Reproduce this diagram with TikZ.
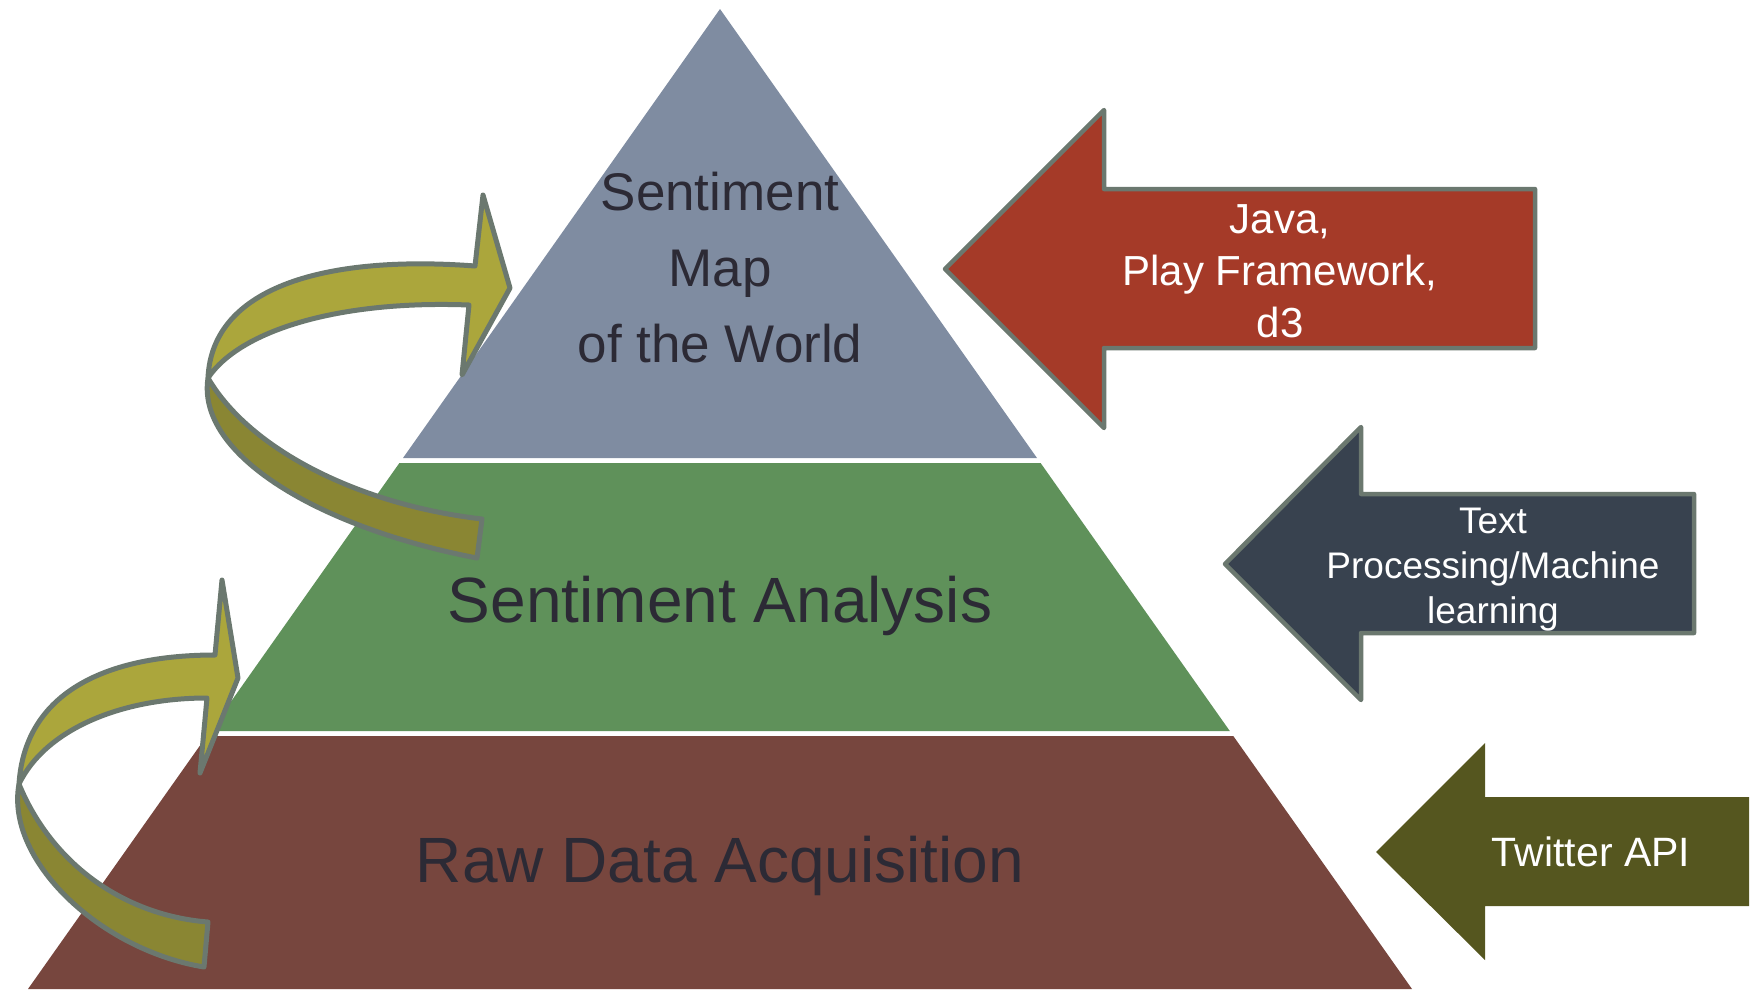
\documentclass[tikz,border=0pt]{standalone}
\usepackage{fontspec}
\setmainfont{Liberation Sans}
\usepackage{xcolor}
\definecolor{topgray}{HTML}{7F8CA1}
\definecolor{midgreen}{HTML}{5F915A}
\definecolor{lowbrown}{HTML}{77463E}
\definecolor{tiertext}{HTML}{2C2A35}
\definecolor{javared}{HTML}{A53A28}
\definecolor{slate}{HTML}{38424F}
\definecolor{darkolive}{HTML}{55561F}
\definecolor{edgegray}{HTML}{6B786F}
\definecolor{ribbonlight}{HTML}{ABA63C}
\definecolor{ribbondark}{HTML}{8A8633}

\begin{document}
\begin{tikzpicture}
    [
    x={(1pt,0)}, y={(0,-1pt)},
    tier/.style={text=tiertext,align=center},
    block/.style={draw=edgegray,line width=4.5pt,line join=round},
    ribbon/.style={draw=edgegray,line width=5pt,line join=round},
    tag/.style={text=white,align=center}
    ]
    \useasboundingbox (0,0) rectangle (1757,989);

    % pyramid tiers
    \fill[topgray] (720,9) -- (403,458) -- (1037,458) -- cycle;
    \fill[midgreen] (399.4,463) -- (1040.6,463) -- (1229.8,731) -- (210.2,731) -- cycle;
    \fill[lowbrown] (206.7,736) -- (1233.3,736) -- (1412,989) -- (28,989) -- cycle;

    \node[tier,font=\fontsize{53}{76}\selectfont] (map) at (720,268) {Sentiment\\Map\\of the World};
    \node[tier,font=\fontsize{64}{78}\selectfont] (analysis) at (720,606) {Sentiment Analysis};
    \node[tier,font=\fontsize{64}{78}\selectfont] (acquisition) at (720,866) {Raw Data Acquisition};

    % upper twisted arrow
    \draw[ribbon,fill=ribbondark] (208,378) .. controls (196,455) and (320,528) .. (477,558)
        -- (482,519) .. controls (360,505) and (250,450) .. (208,378) -- cycle;
    \draw[ribbon,fill=ribbonlight] (475,266) -- (483,195) -- (510,288) -- (462,375) -- (469,305)
        .. controls (340,300) and (240,330) .. (208,378)
        .. controls (212,285) and (330,255) .. (475,266) -- cycle;

    % lower twisted arrow
    \draw[ribbon,fill=ribbondark] (19,784) .. controls (5,860) and (100,950) .. (204,967)
        -- (208,922) .. controls (120,915) and (50,860) .. (19,784) -- cycle;
    \draw[ribbon,fill=ribbonlight] (215,655) -- (222,580) -- (238,678) -- (200,773) -- (207,698)
        .. controls (120,698) and (45,730) .. (19,784)
        .. controls (25,690) and (110,655) .. (215,655) -- cycle;

    % block arrows on the right
    \draw[block,fill=javared] (945,269) -- (1104,110) -- (1104,189) -- (1535,189)
        -- (1535,348) -- (1104,348) -- (1104,428) -- cycle;
    \node[tag,font=\fontsize{42}{52}\selectfont] (web) at (1280,271) {Java,\\Play Framework,\\d3};

    \draw[block,fill=slate] (1225,564) -- (1361,427) -- (1361,494) -- (1694,494)
        -- (1694,633) -- (1361,633) -- (1361,700) -- cycle;
    \node[tag,font=\fontsize{37}{45}\selectfont] (nlp) at (1493,570) {Text\\Processing/Machine\\learning};

    \fill[darkolive] (1376,852) -- (1485,743) -- (1485,797) -- (1749,797)
        -- (1749,906) -- (1485,906) -- (1485,960) -- cycle;
    \node[tag,font=\fontsize{41}{50}\selectfont] (twitter) at (1591,852) {Twitter API};
\end{tikzpicture}
\end{document}
